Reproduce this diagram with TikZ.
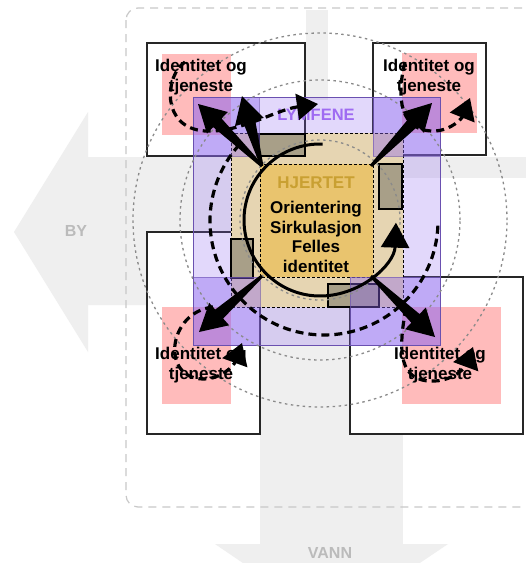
\documentclass[tikz,border=0pt]{standalone}
\usepackage{fontspec}
\setmainfont{Liberation Sans}
\usetikzlibrary{calc,arrows.meta}
\definecolor{arrowgray}{HTML}{EFEFEF}
\definecolor{labelgray}{HTML}{BBBBBB}
\definecolor{framegray}{HTML}{C8C8C8}
\definecolor{circgray}{HTML}{8A8A8A}
\definecolor{pinkfill}{HTML}{FFBBBB}
\definecolor{lymf}{HTML}{8C66F0}
\definecolor{lymfline}{HTML}{6A50B0}
\definecolor{lymftext}{HTML}{9F6BF2}
\definecolor{beige}{HTML}{E6D5B2}
\definecolor{heart}{HTML}{E9C46E}
\definecolor{hearttext}{HTML}{C9A032}
\definecolor{blockfill}{HTML}{A89F88}
\newcommand\myfatarrow[2]{%
  \coordinate (fa-h) at ($(#2)!27pt!(#1)$);
  \fill[black] ($(#1)!1.5pt!90:(#2)$) -- ($(fa-h)!6pt!-90:(#1)$) -- ($(fa-h)!15pt!-90:(#1)$) -- (#2)
    -- ($(fa-h)!15pt!90:(#1)$) -- ($(fa-h)!6pt!90:(#1)$) -- ($(#1)!1.5pt!-90:(#2)$) -- cycle;}
\tikzset{
  boxw/.style={draw=black!85, line width=1.3pt, fill=white},
  pinksq/.style={fill=pinkfill},
  lymfcorner/.style={fill=lymf, fill opacity=0.4, draw=lymfline, draw opacity=0.6, line width=0.8pt},
  block/.style={fill=blockfill, draw=black, line width=1.1pt},
  dotc/.style={draw=circgray, dash pattern=on 2.5pt off 3.5pt, line width=1.3pt},
  dashline/.style={draw=black, line width=3.2pt, dash pattern=on 8pt off 5pt},
  dasharrow/.style={dashline, -{Triangle[width=26pt,length=21pt]}},
  idt/.style={inner sep=0pt, align=center, font=\fontsize{17}{19.5}\selectfont\bfseries},
  lbl/.style={inner sep=0pt, text=labelgray, font=\fontsize{16}{19}\selectfont\bfseries},
}
\begin{document}
\begin{tikzpicture}[x=1pt,y=1pt]
\useasboundingbox (0,0) rectangle (526,-563);
\clip (0,0) rectangle (526,-563);
\fill[white] (0,0) rectangle (526,-563);
% big gray arrows
\fill[arrowgray] (14,-232) -- (88,-112) -- (88,-157) -- (300,-157) -- (300,-305) -- (88,-305) -- (88,-352) -- cycle;
\fill[arrowgray] (260,-250) rectangle (403,-544);
\fill[arrowgray] (215,-544) -- (448,-544) -- (331,-623) -- cycle;
\fill[arrowgray] (306,-10) rectangle (328,-100);
\fill[arrowgray] (400,-157) rectangle (526,-178);
% dashed frame
\draw[framegray, dash pattern=on 8pt off 6pt, line width=1.2pt, rounded corners=12pt] (126,-8) rectangle (560,-507);
% corner boxes
\draw[boxw] (147,-43) rectangle (305,-156);
\draw[boxw] (373,-43) rectangle (486,-155);
\draw[boxw] (147,-232) rectangle (260,-434);
\draw[boxw] (350,-277) rectangle (523,-434);
% pink squares
\fill[pinksq] (162,-54) rectangle (231,-135);
\fill[pinksq] (402,-53) rectangle (477,-133);
\fill[pinksq] (162,-307) rectangle (231,-404);
\fill[pinksq] (402,-307) rectangle (501,-404);
% lymfene square
\fill[lymf, fill opacity=0.25] (193,-97) rectangle (440,-345);
% beige square
\draw[fill=beige, dash pattern=on 3pt off 2pt, line width=1pt] (231,-133) rectangle (403,-307);
% blocks
\draw[block] (259,-134) rectangle (305,-156);
\draw[block] (379,-164) rectangle (402,-209);
\draw[block] (231,-239) rectangle (253,-278);
\draw[block] (328,-284) rectangle (379,-307);
% heart square
\draw[fill=heart, dash pattern=on 3pt off 2pt, line width=1pt] (260,-164) rectangle (373,-277);
% lymfene corners
\path[lymfcorner] (193,-97) rectangle (259,-156);
\path[lymfcorner] (373,-97) rectangle (440,-156);
\path[lymfcorner] (193,-277) rectangle (260,-345);
\path[lymfcorner] (350,-277) rectangle (440,-345);
\draw[lymfline, line width=1pt] (193,-97) rectangle (440,-345);
% dotted circles
\coordinate (cc) at (320,-220);
\draw[dotc] (cc) circle[radius=80];
\draw[dotc] (cc) circle[radius=140];
\draw[dotc] (cc) circle[radius=187];
% texts
\node[idt] (t1) at (201,-77) {Identitet og\\tjeneste};
\node[idt] (t2) at (429,-77) {Identitet og\\tjeneste};
\node[idt] (t3) at (201,-365) {Identitet og\\tjeneste};
\node[idt] (t4) at (440,-365) {Identitet og\\tjeneste};
\node[inner sep=0pt, text=hearttext, font=\fontsize{17}{19.5}\selectfont\bfseries] (hj) at (316,-183) {HJERTET};
\node[idt] (core) at (316,-237) {Orientering\\Sirkulasjon\\Felles\\identitet};
\node[inner sep=0pt, text=lymftext, font=\fontsize{16.5}{19}\selectfont\bfseries] (ly) at (316,-115) {LYMFENE};
\node[lbl] (by) at (76,-231) {BY};
\node[lbl] (vann) at (330,-553) {VANN};
% solid circular arrow
\coordinate (s1) at ($(cc)+(88:76)$);
\draw[line width=3pt, -{Triangle[width=28pt,length=25pt]}] (s1) arc[start angle=88, end angle=358, radius=76];
% dashed arrows
\coordinate (a1) at (185,-62); \coordinate (a2) at (318,-104);
\draw[dasharrow] (a1) .. controls (165,-75) and (160,-128) .. (205,-131) .. controls (240,-133) and (275,-110) .. (a2);
\coordinate (b1) at (405,-62); \coordinate (b2) at (470,-98);
\draw[dasharrow] (b1) .. controls (396,-98) and (400,-132) .. (435,-131) .. controls (452,-130) and (462,-118) .. (b2);
\coordinate (cd) at (324,-221);
\coordinate (c1) at ($(cd)+(138:114)$);
\draw[dashline] (c1) arc[start angle=138, end angle=360, radius=114];
\coordinate (d1) at (213,-307); \coordinate (d2) at (242,-343);
\draw[dasharrow] (d1) .. controls (168,-312) and (160,-378) .. (203,-379) .. controls (222,-379) and (234,-365) .. (d2);
\coordinate (e1) at (406,-308); \coordinate (e2) at (473,-347);
\draw[dasharrow] (e1) .. controls (398,-350) and (398,-383) .. (435,-381) .. controls (455,-380) and (466,-366) .. (e2);
% big tapered arrows
\coordinate (htl) at (262,-166); \coordinate (htr) at (371,-166);
\coordinate (hbl) at (262,-276); \coordinate (hbr) at (371,-276);
\coordinate (ptl1) at (198,-104); \coordinate (ptl2) at (242,-96);
\coordinate (ptr) at (432,-103); \coordinate (pbl) at (199,-332); \coordinate (pbr) at (435,-337);
\myfatarrow{htl}{ptl1}
\myfatarrow{htl}{ptl2}
\myfatarrow{htr}{ptr}
\myfatarrow{hbl}{pbl}
\myfatarrow{hbr}{pbr}
\end{tikzpicture}
\end{document}
